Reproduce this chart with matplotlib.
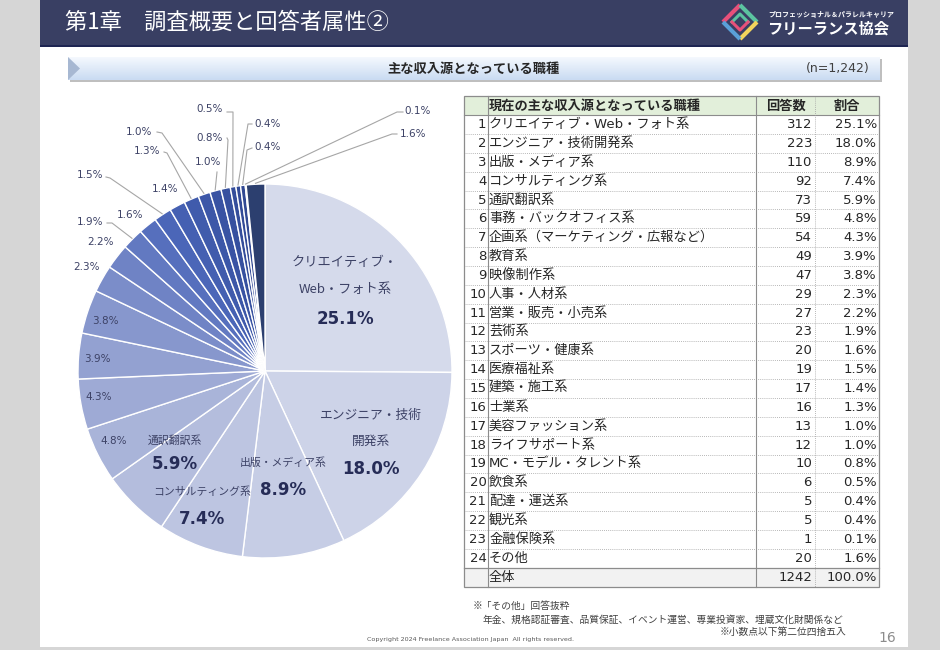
import numpy as np
import matplotlib
matplotlib.use("Agg")
import matplotlib.pyplot as plt
from matplotlib.patches import Rectangle, Polygon

# ---------------- data ----------------
categories = [
    "クリエイティブ・Web・フォト系", "エンジニア・技術開発系", "出版・メディア系",
    "コンサルティング系", "通訳翻訳系", "事務・バックオフィス系",
    "企画系（マーケティング・広報など）", "教育系", "映像制作系", "人事・人材系",
    "営業・販売・小売系", "芸術系", "スポーツ・健康系", "医療福祉系", "建築・施工系",
    "士業系", "美容ファッション系", "ライフサポート系", "MC・モデル・タレント系",
    "飲食系", "配達・運送系", "観光系", "金融保険系", "その他",
]
counts = [312, 223, 110, 92, 73, 59, 54, 49, 47, 29, 27, 23, 20, 19, 17, 16, 13, 12,
          10, 6, 5, 5, 1, 20]
table_header = ["現在の主な収入源となっている職種", "回答数", "割合"]
total_label = "全体"
title = "第1章　調査概要と回答者属性②"
banner_title = "主な収入源となっている職種"
inner_names = {0: ["クリエイティブ・", "Web・フォト系"], 1: ["エンジニア・技術", "開発系"],
               2: ["出版・メディア系"], 3: ["コンサルティング系"], 4: ["通訳翻訳系"]}
notes = ["※「その他」回答抜粋",
         "年金、規格認証審査、品質保証、イベント運営、専業投資家、埋蔵文化財関係など",
         "※小数点以下第二位四捨五入"]
copyright_text = "Copyright 2024 Freelance Association Japan  All rights reserved."
page_no = "16"

total = sum(counts)
pcts = [100.0 * c / total for c in counts]
pct_txt = [f"{p:.1f}%" for p in pcts]

# ---------------- style / layout ----------------
FAM = ["DejaVu Sans", "Noto Sans CJK JP"]
JFAM = ["Noto Sans CJK JP", "DejaVu Sans"]
plt.rcParams["font.family"] = FAM

slice_colors = ["#D5DAEB", "#CDD3E8", "#C6CDE5", "#BDC5E1", "#B4BDDD", "#A9B4D9",
                "#9EAAD5", "#93A1D1", "#8797CD", "#7B8DC9", "#6F83C5", "#6279C1",
                "#566FBD", "#4B66B8", "#4560B2", "#405BAC", "#3C57A8", "#3953A3",
                "#36509F", "#344D9B", "#324A97", "#304893", "#2E4690", "#2C3F6F"]
LBL = "#3D4266"
NAVY = "#393F63"

W, H = 940, 650
def Y(y):
    return H - y

fig = plt.figure(figsize=(9.4, 6.5), dpi=100, facecolor="#D6D6D6")
ax = fig.add_axes([0, 0, 1, 1])
ax.set_xlim(0, W)
ax.set_ylim(0, H)
ax.axis("off")

# slide body
ax.add_patch(Rectangle((40, Y(647)), 868, 647, facecolor="white", edgecolor="none", zorder=0))
# header
ax.add_patch(Rectangle((40, Y(45)), 868, 45, facecolor=NAVY, edgecolor="none", zorder=1))
ax.add_patch(Rectangle((40, Y(46.5)), 868, 1.5, facecolor="#1E2552", edgecolor="none", zorder=1))
ax.text(65, Y(22), title, color="white", fontsize=16, va="center", ha="left",
        family=JFAM, zorder=3)

# logo
lc, lcy, s = 740, 22, 17
ax.plot([lc - s, lc], [Y(lcy), Y(lcy - s)], color="#E8507A", lw=3, solid_capstyle="butt", zorder=3)
ax.plot([lc, lc + s], [Y(lcy - s), Y(lcy)], color="#5BC4A0", lw=3, solid_capstyle="butt", zorder=3)
ax.plot([lc + s, lc], [Y(lcy), Y(lcy + s)], color="#F2D45C", lw=3, solid_capstyle="butt", zorder=3)
ax.plot([lc, lc - s], [Y(lcy + s), Y(lcy)], color="#5AA0D8", lw=3, solid_capstyle="butt", zorder=3)
t = 8
ax.plot([lc - t, lc, lc + t], [Y(lcy), Y(lcy - t), Y(lcy)], color="#5BC4A0", lw=2.2, zorder=3)
ax.plot([lc - t, lc, lc + t], [Y(lcy), Y(lcy + t), Y(lcy)], color="#E8507A", lw=2.2, zorder=3)
ax.text(768, Y(14), "プロフェッショナル＆パラレルキャリア", color="white", fontsize=5,
        fontweight="bold", va="center", ha="left", family=JFAM, zorder=3)
ax.text(767, Y(28), "フリーランス協会", color="white", fontsize=11, fontweight="bold",
        va="center", ha="left", family=JFAM, zorder=3)

# banner
ax.add_patch(Rectangle((70, Y(82)), 812, 23, facecolor="#BFBFBF", edgecolor="none", zorder=1))
grad = np.linspace(0, 1, 50)[:, None]
top_c = np.array([0.96, 0.975, 0.995])
bot_c = np.array([0.79, 0.86, 0.95])
img = top_c[None, None, :] * (1 - grad[:, :, None]) + bot_c[None, None, :] * grad[:, :, None]
ax.imshow(img, extent=(68, 880, Y(80), Y(57)), aspect="auto", zorder=2, interpolation="bilinear")
ax.add_patch(Polygon([(68, Y(57)), (80, Y(68.5)), (68, Y(80))], closed=True,
                     facecolor="#A7B8D2", edgecolor="none", zorder=3))
ax.text(474, Y(68.5), banner_title, color="#262626", fontsize=9.5, fontweight="bold",
        va="center", ha="center", family=JFAM, zorder=4)
ax.text(870, Y(68.5), f"(n={total:,})", color="#404040", fontsize=9, va="center",
        ha="right", family=FAM, zorder=4)

# ---------------- pie ----------------
cx, cy, R = 265, 371, 187
wedges, _ = ax.pie(counts, colors=slice_colors, startangle=90, counterclock=False,
                   radius=R, center=(cx, Y(cy)), frame=True,
                   wedgeprops=dict(edgecolor="white", linewidth=1.0))
for w in wedges:
    w.set_zorder(2)
ax.set_xlim(0, W)
ax.set_ylim(0, H)
ax.axis("off")

cum = np.concatenate([[0], np.cumsum(counts)])
def rim(i, rr=1.0):
    f = (cum[i] + counts[i] / 2) / total
    th = np.deg2rad(90 - 360 * f)
    return cx + R * rr * np.cos(th), cy - R * rr * np.sin(th)

# large inner labels (name lines, value)
big_layout = {0: ((345, [262, 289], 319), 9.5), 1: ((371, [415, 441], 469), 9.2),
              2: ((283, [463], 490), 7.8), 3: ((202, [492], 519), 7.8),
              4: ((175, [441], 464), 7.8)}
for i, ((x, ys, yv), fs) in big_layout.items():
    for line, yy in zip(inner_names[i], ys):
        ax.text(x, Y(yy), line, fontsize=fs, color=LBL, ha="center", va="center",
                family=JFAM, zorder=5)
    ax.text(x, Y(yv), pct_txt[i], fontsize=12, fontweight="bold", color="#262C57",
            ha="center", va="center", family=FAM, zorder=5)

# small labels: index -> (text x, text y, leader elbow points)
small_layout = {
    5: (114, 441, None), 6: (99, 397, None), 7: (97, 359, None), 8: (105, 321, None),
    9: (87, 267, None), 10: (100, 242, None),
    11: (90, 222, [(107, 223), (112, 223)]),
    12: (130, 215, None),
    13: (90, 175, [(106, 177), (110, 178)]),
    14: (165, 189, None),
    15: (147, 151, [(164, 152), (167, 153)]),
    16: (139, 132, [(157, 132), (162, 133)]),
    17: (208, 162, [(217, 172)]),
    18: (210, 138, [(227, 138), (228, 140)]),
    19: (210, 109, [(227, 112), (233, 112)]),
    20: (268, 124, [(252, 124), (248, 124)]),
    21: (268, 147, [(252, 148), (247, 150)]),
    22: (418, 111, [(403, 112), (397, 112)]),
    23: (413, 134, [(397, 134), (392, 134)]),
}
for i, (x, y, pts) in small_layout.items():
    ax.text(x, Y(y), pct_txt[i], fontsize=7.5, color=LBL, ha="center", va="center",
            family=FAM, zorder=5)
    if pts:
        ex, ey = rim(i, 1.005)
        xs = [p[0] for p in pts] + [ex]
        ys = [Y(p[1]) for p in pts] + [Y(ey)]
        ax.plot(xs, ys, color="#A6A6A6", lw=0.8, zorder=4)

# ---------------- table ----------------
tl, tr = 464, 879
c1, c2, c3 = 488, 756, 815
top, hdr_b, rh = 96, 115.2, 18.85
n = len(counts)
tot_t = hdr_b + n * rh
tot_b = tot_t + 19.5

ax.add_patch(Rectangle((tl, Y(hdr_b)), tr - tl, hdr_b - top, facecolor="#E2EFDA",
                       edgecolor="none", zorder=1))
ax.add_patch(Rectangle((tl, Y(tot_b)), tr - tl, tot_b - tot_t, facecolor="#F2F2F2",
                       edgecolor="none", zorder=1))
for k in range(1, n):
    yy = Y(hdr_b + k * rh)
    ax.plot([tl, tr], [yy, yy], color="#A0A0A0", lw=0.6, ls=(0, (1, 1.5)), zorder=2)
ax.plot([tl, tr], [Y(hdr_b), Y(hdr_b)], color="#8C8C8C", lw=0.8, zorder=2)
ax.plot([tl, tr], [Y(tot_t), Y(tot_t)], color="#8C8C8C", lw=0.9, zorder=2)
for xx in (c1, c2):
    ax.plot([xx, xx], [Y(top), Y(tot_b)], color="#8C8C8C", lw=0.8, zorder=2)
ax.plot([c3, c3], [Y(top), Y(tot_b)], color="#A0A0A0", lw=0.6, ls=(0, (1, 1.5)), zorder=2)
ax.add_patch(Rectangle((tl, Y(tot_b)), tr - tl, tot_b - top, facecolor="none",
                       edgecolor="#8C8C8C", lw=0.9, zorder=3))

hy = Y((top + hdr_b) / 2)
ax.text(c1 + 1, hy, table_header[0], fontsize=9.5, fontweight="bold", color="#262626",
        ha="left", va="center", family=JFAM, zorder=4)
ax.text((c2 + c3) / 2, hy, table_header[1], fontsize=9.5, fontweight="bold",
        color="#262626", ha="center", va="center", family=JFAM, zorder=4)
ax.text((c3 + tr) / 2, hy, table_header[2], fontsize=9.5, fontweight="bold",
        color="#262626", ha="center", va="center", family=JFAM, zorder=4)

TC = "#262626"
for k, (name, c, p) in enumerate(zip(categories, counts, pct_txt)):
    yy = Y(hdr_b + (k + 0.5) * rh)
    ax.text(c1 - 1.5, yy, str(k + 1), fontsize=9.5, color=TC, ha="right", va="center",
            family=FAM, zorder=4)
    ax.text(c1 + 1, yy, name, fontsize=9.5, color=TC, ha="left", va="center",
            family=FAM, zorder=4)
    ax.text(c3 - 3, yy, str(c), fontsize=9.5, color=TC, ha="right", va="center",
            family=FAM, zorder=4)
    ax.text(tr - 2, yy, p, fontsize=9.5, color=TC, ha="right", va="center",
            family=FAM, zorder=4)
yy = Y((tot_t + tot_b) / 2)
ax.text(c1 + 1, yy, total_label, fontsize=9.5, color=TC, ha="left", va="center",
        family=JFAM, zorder=4)
ax.text(c3 - 3, yy, str(total), fontsize=9.5, color=TC, ha="right", va="center",
        family=FAM, zorder=4)
ax.text(tr - 2, yy, f"{sum(pcts):.1f}%", fontsize=9.5, color=TC, ha="right",
        va="center", family=FAM, zorder=4)

# ---------------- footer ----------------
ax.text(473, Y(606), notes[0], fontsize=7, color="#404040", ha="left", va="center",
        family=JFAM)
ax.text(483, Y(620), notes[1], fontsize=7, color="#404040", ha="left", va="center",
        family=JFAM)
ax.text(846, Y(632), notes[2], fontsize=7, color="#404040", ha="right", va="center",
        family=JFAM)
ax.text(367, Y(640), copyright_text, fontsize=4.6, color="#595959", ha="left",
        va="center", family=FAM)
ax.text(896, Y(638), page_no, fontsize=10, color="#8C8C8C", ha="right", va="center",
        family=FAM)

fig.savefig("out.png", dpi=100, facecolor=fig.get_facecolor())
